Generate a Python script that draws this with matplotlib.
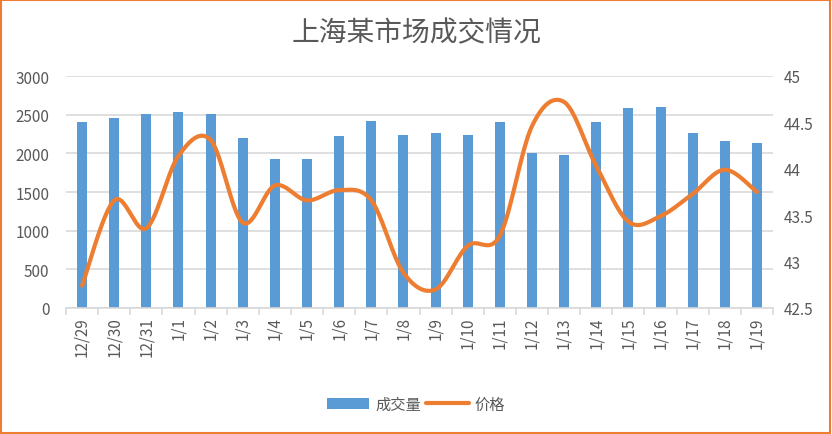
import numpy as np
import matplotlib
matplotlib.use("Agg")
import matplotlib.pyplot as plt
from matplotlib.patches import Rectangle

plt.rcParams['font.family'] = ['Noto Sans CJK SC', 'DejaVu Sans']

dates = ["12/29", "12/30", "12/31", "1/1", "1/2", "1/3", "1/4", "1/5", "1/6", "1/7", "1/8",
         "1/9", "1/10", "1/11", "1/12", "1/13", "1/14", "1/15", "1/16", "1/17", "1/18", "1/19"]
volume = [2410, 2460, 2510, 2540, 2510, 2200, 1930, 1930, 2220, 2420, 2240,
          2260, 2240, 2400, 2000, 1980, 2410, 2580, 2600, 2260, 2160, 2130]
price = [42.74, 43.66, 43.36, 44.14, 44.31, 43.42, 43.82, 43.66, 43.77, 43.66, 42.88,
         42.70, 43.17, 43.28, 44.46, 44.72, 44.03, 43.43, 43.49, 43.73, 43.99, 43.75]

grey = "#595959"
blue = "#5B9BD5"
orange = "#ED7D31"


def smooth(xs, ys, n=30):
    # excel style smoothed line: bezier through points, catmull-rom control points
    xs = np.asarray(xs, float)
    ys = np.asarray(ys, float)
    px, py = [], []
    for i in range(len(xs) - 1):
        x0, y0 = (xs[i - 1], ys[i - 1]) if i > 0 else (xs[i], ys[i])
        x1, y1 = xs[i], ys[i]
        x2, y2 = xs[i + 1], ys[i + 1]
        x3, y3 = (xs[i + 2], ys[i + 2]) if i + 2 < len(xs) else (x2, y2)
        c1 = (x1 + (x2 - x0) / 6, y1 + (y2 - y0) / 6)
        c2 = (x2 - (x3 - x1) / 6, y2 - (y3 - y1) / 6)
        t = np.linspace(0, 1, n)
        px.extend((1 - t) ** 3 * x1 + 3 * (1 - t) ** 2 * t * c1[0] + 3 * (1 - t) * t ** 2 * c2[0] + t ** 3 * x2)
        py.extend((1 - t) ** 3 * y1 + 3 * (1 - t) ** 2 * t * c1[1] + 3 * (1 - t) * t ** 2 * c2[1] + t ** 3 * y2)
    return px, py


fig = plt.figure(figsize=(8.32, 4.35), dpi=100)
ax = fig.add_axes([66 / 832, 1 - 309 / 435, (773 - 66) / 832, (309 - 77) / 435])
x = np.arange(len(dates))

ax.bar(x, volume, width=0.31, color=blue, zorder=2, label="成交量")
ax.set_ylim(0, 3000)
ax.set_xlim(-0.5, len(dates) - 0.5)
ax.set_yticks(range(0, 3001, 500))
ax.grid(axis='y', color="#D9D9D9", linewidth=1.2, zorder=0)
ax.set_axisbelow(True)
for s in ["top", "left", "right"]:
    ax.spines[s].set_visible(False)
ax.spines["bottom"].set_color("#D9D9D9")
ax.spines["bottom"].set_linewidth(1.2)
ax.set_xticks(x)
ax.set_xticklabels(dates, rotation=90)
ax.tick_params(axis='x', length=0, pad=6, labelsize=11, labelcolor=grey)
ax.set_xticks(np.arange(-0.5, len(dates)), minor=True)
ax.tick_params(axis='x', which='minor', length=5, width=1.2, color="#D9D9D9")
ax.tick_params(axis='y', length=0, pad=12, labelsize=11, labelcolor=grey)

ax2 = ax.twinx()
sx, sy = smooth(x, price)
ax2.plot(sx, sy, color=orange, linewidth=3, solid_capstyle='round', label="价格")
ax2.set_ylim(42.5, 45)
ax2.set_yticks([42.5, 43, 43.5, 44, 44.5, 45])
ax2.set_yticklabels(["42.5", "43", "43.5", "44", "44.5", "45"])
ax2.tick_params(axis='y', length=0, pad=8, labelsize=11, labelcolor=grey)
for s in ax2.spines.values():
    s.set_visible(False)

fig.text(0.5, 1 - 33 / 435, "上海某市场成交情况", ha='center', va='center', fontsize=20, color=grey)

h1, l1 = ax.get_legend_handles_labels()
h2, l2 = ax2.get_legend_handles_labels()
fig.legend(h1 + h2, l1 + l2, loc='center', bbox_to_anchor=(0.5, 1 - 405 / 435), ncol=2, frameon=False,
           fontsize=11, labelcolor=grey, handlelength=2.8, handletextpad=0.4, columnspacing=0.3)

fig.patches.append(Rectangle((0.001, 0.002), 0.997, 0.995, transform=fig.transFigure, fill=False,
                             edgecolor=orange, linewidth=1.5))

fig.savefig("out.png", dpi=100)
